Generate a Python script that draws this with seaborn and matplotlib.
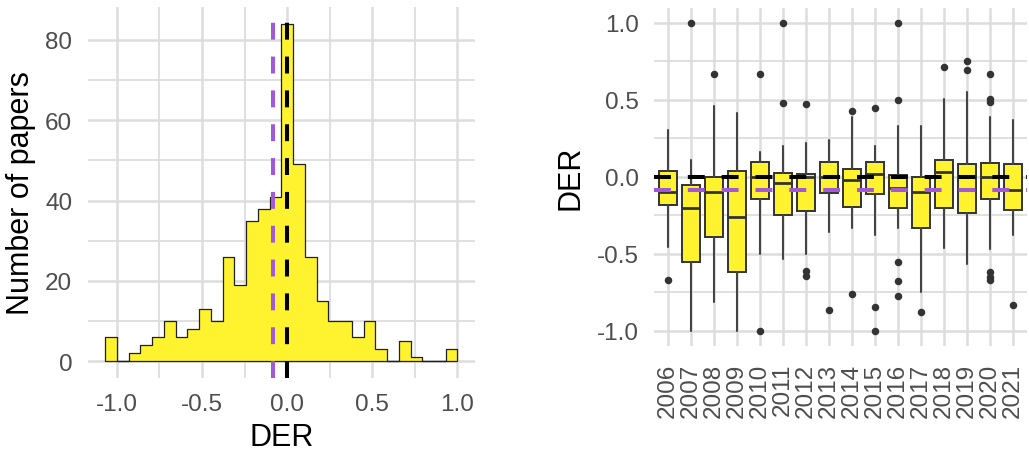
import numpy as np
import pandas as pd
import matplotlib
matplotlib.use("Agg")
import matplotlib.pyplot as plt
from matplotlib.ticker import MultipleLocator, FixedLocator
import seaborn as sns

# ---- histogram of DER across all papers (30 bins, width 2/29, centred on 0) ----
bin_width = 2 / 29
bin_index = np.arange(-15, 15)
paper_counts = [6, 0, 2, 4, 6, 10, 6, 8, 13, 10, 26, 19, 35, 38, 41,
                84, 49, 26, 15, 10, 10, 6, 10, 3, 0, 5, 1, 0, 0, 3]

# reference lines
der_zero = 0.0
der_mean = -0.084

# ---- yearly DER distributions ----
years = ["2006", "2007", "2008", "2009", "2010", "2011", "2012", "2013",
         "2014", "2015", "2016", "2017", "2018", "2019", "2020", "2021"]
whisker_low = [-0.454, -1.000, -0.817, -1.000, -0.500, -0.537, -0.500, -0.361,
               -0.335, -0.376, -0.335, -0.749, -0.460, -0.567, -0.469, -0.378]
q1 = [-0.185, -0.552, -0.392, -0.621, -0.145, -0.251, -0.225, -0.108,
      -0.196, -0.114, -0.203, -0.335, -0.200, -0.235, -0.145, -0.214]
median = [-0.097, -0.200, -0.100, -0.259, 0.000, -0.040, 0.000, 0.000,
          -0.020, 0.018, -0.073, -0.097, 0.029, 0.000, 0.000, -0.086]
q3 = [0.038, -0.055, 0.000, 0.040, 0.096, 0.025, 0.020, 0.096,
      0.049, 0.098, 0.014, 0.000, 0.109, 0.081, 0.092, 0.083]
whisker_high = [0.306, 0.107, 0.462, 0.413, 0.159, 0.198, 0.220, 0.241,
                0.389, 0.198, 0.330, 0.330, 0.506, 0.549, 0.387, 0.367]
outliers = [
    [-0.669],
    [1.0],
    [0.667],
    [],
    [0.667, -1.0],
    [1.0, 0.482],
    [0.471, -0.610, -0.647],
    [-0.868],
    [0.426, -0.764],
    [0.445, -0.847, -1.0],
    [1.0, 0.5, -0.556, -0.678, -0.777],
    [-0.879],
    [0.712],
    [0.751, 0.692],
    [0.667, 0.506, 0.484, -0.621, -0.651, -0.669],
    [-0.834],
]

# ---- styling ----
sns.set_theme(style="white")
plt.rcParams["font.family"] = ["Liberation Sans", "DejaVu Sans"]

YELLOW = "#FFF22E"
PURPLE = "#A259D9"
EDGE = "#333333"
GRID = "#DDDDDD"
TICK_COLOR = "#4D4D4D"
TICK_SIZE = 17.5
TITLE_SIZE = 22
DASH_LW = 2.9
DASHES = (4.2, 4.2)

fig = plt.figure(figsize=(10.29, 4.52), dpi=100)
ax_hist = fig.add_axes([0.0851, 0.1615, 0.3766, 0.8208])
ax_box = fig.add_axes([0.6358, 0.2323, 0.3621, 0.7487])


def style_axes(ax):
    for s in ax.spines.values():
        s.set_visible(False)
    ax.set_axisbelow(True)
    ax.grid(which="major", color=GRID, linewidth=1.8)
    ax.grid(which="minor", color=GRID, linewidth=1.3)
    ax.tick_params(which="both", length=0, labelsize=TICK_SIZE,
                   labelcolor=TICK_COLOR)


# ---- left: histogram ----
hist_df = pd.DataFrame({"center": bin_index * bin_width,
                        "count": np.asarray(paper_counts, dtype=float)})
edges = [float(e) for e in (np.arange(-15, 16) - 0.5) * bin_width]
sns.histplot(data=hist_df, x="center", weights="count", bins=edges,
             element="step", fill=True, color=YELLOW, alpha=1,
             edgecolor="#222222", linewidth=0.9, ax=ax_hist)
ax_hist.axvline(der_mean, color=PURPLE, linewidth=DASH_LW,
                linestyle=(0, DASHES), zorder=5)
ax_hist.axvline(der_zero, color="black", linewidth=DASH_LW,
                linestyle=(0, DASHES), zorder=5)

span = edges[-1] - edges[0]
ax_hist.set_xlim(edges[0] - 0.05 * span, edges[-1] + 0.05 * span)
ymax = max(paper_counts)
ax_hist.set_ylim(-0.05 * ymax, 1.05 * ymax)
ax_hist.xaxis.set_minor_locator(MultipleLocator(0.25))
ax_hist.yaxis.set_minor_locator(MultipleLocator(10))
ax_hist.set_xticks([-1.0, -0.5, 0.0, 0.5, 1.0])
ax_hist.set_xticklabels(["-1.0", "-0.5", "0.0", "0.5", "1.0"])
ax_hist.set_yticks([0, 20, 40, 60, 80])
ax_hist.set_yticklabels(["0", "20", "40", "60", "80"])
style_axes(ax_hist)
ax_hist.tick_params(axis="y", pad=11)
ax_hist.tick_params(axis="x", pad=11)
ax_hist.set_xlabel("DER", fontsize=TITLE_SIZE, color="black", labelpad=5)
ax_hist.set_ylabel("Number of papers", fontsize=TITLE_SIZE, color="black",
                   va="center")
ax_hist.yaxis.set_label_coords(-0.172, 0.5)

# ---- right: boxplots by year ----
stats = []
for i, yr in enumerate(years):
    stats.append(dict(label=yr, med=median[i], q1=q1[i], q3=q3[i],
                      whislo=whisker_low[i], whishi=whisker_high[i],
                      fliers=outliers[i]))
positions = np.arange(len(years))
ax_box.bxp(stats, positions=positions, widths=0.75, patch_artist=True,
           showcaps=False,
           boxprops=dict(facecolor=YELLOW, edgecolor=EDGE, linewidth=1.4),
           medianprops=dict(color=EDGE, linewidth=2.0),
           whiskerprops=dict(color="#444444", linewidth=1.5),
           flierprops=dict(marker="o", markerfacecolor=EDGE,
                           markeredgecolor=EDGE, markersize=4.4))
ax_box.axhline(der_zero, color="black", linewidth=DASH_LW,
               linestyle=(0, DASHES), zorder=5)
ax_box.axhline(der_mean, color=PURPLE, linewidth=DASH_LW,
               linestyle=(0, DASHES), zorder=5)

ax_box.set_xlim(-0.6, len(years) - 1 + 0.6)
ax_box.set_ylim(-1.1, 1.1)
ax_box.set_xticks(positions)
ax_box.set_xticklabels(years, rotation=90)
ax_box.yaxis.set_major_locator(FixedLocator([-1.0, -0.5, 0.0, 0.5, 1.0]))
ax_box.yaxis.set_minor_locator(FixedLocator([-0.75, -0.25, 0.25, 0.75]))
ax_box.set_yticklabels(["-1.0", "-0.5", "0.0", "0.5", "1.0"])
style_axes(ax_box)
ax_box.grid(which="minor", axis="x", visible=False)
ax_box.tick_params(axis="y", pad=11)
ax_box.tick_params(axis="x", pad=12)
ax_box.set_ylabel("DER", fontsize=TITLE_SIZE, color="black", va="center")
ax_box.yaxis.set_label_coords(-0.225, 0.5)

fig.savefig("out.png", dpi=100)
